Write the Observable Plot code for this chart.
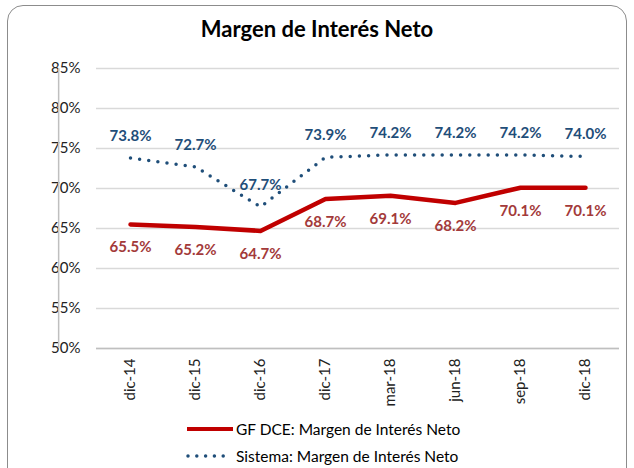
<!DOCTYPE html>
<html><head><meta charset="utf-8">
<script src="https://cdn.jsdelivr.net/npm/d3@7"></script>
<script src="https://cdn.jsdelivr.net/npm/@observablehq/plot@0.6"></script>
<style>
html,body{margin:0;padding:0;background:#fff;}
body{width:634px;height:468px;position:relative;overflow:hidden;font-family:Lato,"Open Sans",sans-serif;}
#frame{position:absolute;left:7px;top:5px;width:620px;height:480px;border:1.5px solid #8c8c8c;border-radius:16px;box-sizing:border-box;}
#title{position:absolute;left:0;width:634px;top:15px;text-align:center;font-weight:bold;font-size:22px;color:#000;}
#chart{position:absolute;left:0;top:0;}
.leg{position:absolute;left:186px;font-size:15.5px;color:#000;display:flex;align-items:center;}
.leg svg{margin-right:2px;}
</style></head>
<body>
<div id="frame"></div>
<div id="chart"></div>
<div id="title">Margen de Interés Neto</div>
<div class="leg" style="top:420px"><svg width="48" height="10"><line x1="1" x2="47" y1="5" y2="5" stroke="#c00000" stroke-width="4"/></svg>GF DCE: Margen de Interés Neto</div>
<div class="leg" style="top:447px"><svg width="48" height="10"><line x1="2" x2="46" y1="5" y2="5" stroke="#1f4e79" stroke-width="3.5" stroke-linecap="round" stroke-dasharray="0,8.8"/></svg>Sistema: Margen de Interés Neto</div>
<script>
const categories = ["dic-14","dic-15","dic-16","dic-17","mar-18","jun-18","sep-18","dic-18"];
const gfValues = [65.5, 65.2, 64.7, 68.7, 69.1, 68.2, 70.1, 70.1];
const sistemaValues = [73.8, 72.7, 67.7, 73.9, 74.2, 74.2, 74.2, 74.0];
const yTicks = [50, 55, 60, 65, 70, 75, 80, 85];

const gf = categories.map((c, i) => ({cat: c, v: gfValues[i]}));
const sis = categories.map((c, i) => ({cat: c, v: sistemaValues[i]}));

const chart = Plot.plot({
  width: 634,
  height: 420,
  marginTop: 68,
  marginBottom: 72,
  marginLeft: 96,
  marginRight: 15,
  style: {fontFamily: "Lato, 'Open Sans', sans-serif", fontSize: "15px", color: "#222", background: "transparent"},
  x: {type: "point", domain: categories, padding: 0.5, label: null},
  y: {domain: [50, 85], label: null},
  marks: [
    Plot.ruleY(yTicks, {stroke: "#d9d9d9", strokeWidth: 1.5}),
    Plot.ruleY([50], {stroke: "#bfbfbf", strokeWidth: 1.5}),
    Plot.axisY({ticks: yTicks, tickSize: 0, tickPadding: 16, tickFormat: d => d + "%", fontSize: 15}),
    Plot.axisX({tickSize: 0, tickPadding: 10, tickRotate: -90, fontSize: 15}),
    Plot.line(sis, {x: "cat", y: "v", stroke: "#1f4e79", strokeWidth: 3.5, strokeLinecap: "round", strokeDasharray: "0,9.2"}),
    Plot.line(gf, {x: "cat", y: "v", stroke: "#c00000", strokeWidth: 4.5}),
    Plot.text(sis, {x: "cat", y: "v", text: d => d.v.toFixed(1) + "%", dy: -22, fill: "#1f4e79", fontWeight: "bold", fontSize: 15}),
    Plot.text(gf, {x: "cat", y: "v", text: d => d.v.toFixed(1) + "%", dy: 23, fill: "#a33a3a", fontWeight: "bold", fontSize: 15})
  ]
});
document.getElementById("chart").appendChild(chart);
// left axis line at the plot's left edge
const yS = chart.scale("y");
const xR = chart.scale("x").range;
const left = xR[0] - (xR[1] - xR[0]) / 7 * 0.5;
d3.select(chart).append("line")
  .attr("x1", left).attr("x2", left)
  .attr("y1", yS.apply(85)).attr("y2", yS.apply(50))
  .attr("stroke", "#bfbfbf").attr("stroke-width", 1.5);
</script>
</body></html>
